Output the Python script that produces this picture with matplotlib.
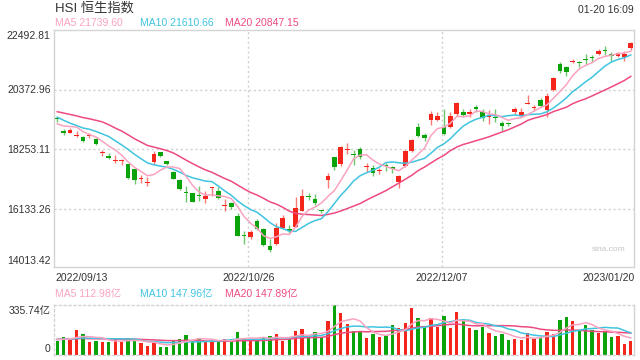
import numpy as np
import pandas as pd
import matplotlib
matplotlib.use("Agg")
import matplotlib.pyplot as plt

plt.rcParams['font.family'] = ['Liberation Sans', 'Noto Sans CJK SC', 'DejaVu Sans']

# ---------------- data ----------------
dates = ["2022/09/13", "2022/10/26", "2022/12/07", "2023/01/20"]
date_idx = [0, 30, 60, 89]

close = [19326.86, 18847.10, 18930.38, 18761.69, 18565.97, 18781.42, 18444.62, 18147.95, 17933.27, 17855.14,
         17860.31, 17250.88, 17165.87, 17222.83, 17079.51, 18087.97, 18012.15, 17740.05, 17216.66, 16832.36,
         16701.04, 16389.11, 16587.69, 16612.90, 16914.58, 16511.28, 16280.22, 16211.12, 15180.69, 15165.59,
         15317.67, 15427.94, 14863.06, 14687.02, 15455.27, 15827.17, 15339.49, 16161.14, 16595.91, 16557.31,
         16358.52, 16081.04, 17325.66, 17619.71, 18343.12, 18256.48, 18045.66, 17992.54, 17655.91, 17424.41,
         17523.81, 17660.90, 17573.58, 17297.94, 18204.68, 18597.23, 18736.44, 18675.35, 19518.29, 19441.18,
         18814.82, 19450.23, 19900.87, 19463.63, 19596.20, 19673.45, 19368.59, 19450.67, 19352.81, 19094.80,
         19160.49, 19679.22, 19593.06, 19898.91, 19741.14, 19781.41, 20145.29, 20793.11, 21052.17, 20991.64,
         21388.34, 21331.46, 21436.05, 21514.10, 21738.66, 21746.72, 21577.64, 21678.00, 21650.98, 22044.65]

open_ = [19345, 18918, 18848, 18726, 18708, 18722, 18633, 18128, 18021, 17835,
         17840, 17722, 17545, 17200, 17050, 17823, 18150, 17832, 17458, 17177,
         16730, 16688, 16610, 16509, 16895, 16776, 16260, 16349, 15871, 15190,
         15132, 15706, 15420, 14826, 14898, 15479, 15432, 15500, 16074, 16615,
         16509, 16110, 17175, 17968, 17740, 18236, 18075, 18271, 17630, 17575,
         17500, 17690, 17632, 17089, 17648, 18191, 19035, 18767, 19288, 19292,
         19045, 19036, 19521, 19590, 19504, 19765, 19564, 19393, 19380, 19187,
         19185, 19576, 19455, 19870, 19720, 20011, 19662, 20368, 21282, 21187,
         21360, 21355, 21460, 21540, 21647, 21775, 21635, 21563, 21536, 21849]

high = [19398, 18965, 19025, 18892, 18731, 18840, 18657, 18231, 18142, 18064,
        17904, 17722, 17568, 17361, 17286, 18180, 18173, 17855, 17481, 17200,
        16966, 16711, 16956, 16785, 16925, 16902, 16476, 16372, 15986, 15338,
        15399, 15799, 15466, 15058, 15629, 15920, 15571, 16579, 16863, 16708,
        16683, 16116, 17407, 17991, 18366, 18465, 18220, 18329, 17760, 17714,
        17593, 17777, 17655, 17356, 18228, 18632, 19196, 18836, 19610, 19591,
        19689, 19565, 19947, 19694, 19688, 19846, 19679, 19646, 19698, 19267,
        19241, 19760, 19708, 20175, 19833, 20069, 20260, 20828, 21363, 21222,
        21480, 21377, 21643, 21618, 21819, 21919, 21727, 21701, 21731, 22068]

low = [19232, 18776, 18840, 18703, 18519, 18675, 18421, 18030, 17911, 17778,
       17684, 17216, 17028, 17062, 16964, 17743, 17966, 17705, 17194, 16809,
       16402, 16389, 16438, 16348, 16615, 16488, 16062, 16142, 15170, 14878,
       15086, 15405, 14828, 14594, 14875, 15421, 15281, 15480, 16051, 16441,
       16277, 16000, 16885, 17527, 17647, 18094, 17697, 17900, 17447, 17308,
       17396, 17487, 17400, 16892, 17625, 18145, 18690, 18549, 19127, 19269,
       18780, 19013, 19440, 19406, 19389, 19593, 19254, 19163, 19238, 18922,
       19068, 19507, 19420, 19853, 19626, 19747, 19398, 20310, 20960, 20854,
       21308, 21182, 21240, 21342, 21612, 21609, 21382, 21528, 21386, 21792]

# closes of the 19 sessions before the window (needed for the moving averages)
prior_close = [19830.52, 19922.45, 19763.91, 19773.03, 19656.98, 19503.25, 19268.74, 19968.38, 20170.04, 20023.22,
               19949.03, 19954.39, 19597.31, 19452.09, 19225.00, 19202.73, 19044.30, 18854.62, 19362.25]

# turnover (亿)
volume = [93, 118, 98, 164, 138, 87, 93, 87, 87, 102,
          87, 109, 93, 80, 58, 80, 53, 53, 98, 104,
          131, 98, 109, 89, 89, 89, 104, 89, 153, 104,
          107, 102, 113, 125, 138, 93, 107, 159, 172, 116,
          152, 116, 227, 336, 281, 206, 159, 154, 111, 138,
          118, 127, 200, 179, 213, 315, 247, 193, 247, 188,
          261, 179, 288, 225, 179, 166, 186, 145, 125, 138,
          98, 104, 98, 145, 104, 118, 152, 138, 234, 254,
          227, 166, 200, 166, 145, 159, 118, 125, 70, 90]
prior_volume = [95, 110, 102, 98, 120, 105, 92, 100, 115, 108,
                97, 104, 112, 99, 106, 101, 94, 110, 103]

y_labels = ["22492.81", "20372.96", "18253.11", "16133.26", "14013.42"]
y_values = [22492.81, 20372.96, 18253.11, 16133.26, 14013.42]
vol_top_label = "335.74亿"
vol_top = 335.74
header_title = "HSI 恒生指数"
header_time = "01-20 16:09"
ma_main_text = ["MA5 21739.60", "MA10 21610.66", "MA20 20847.15"]
ma_vol_text = ["MA5 112.98亿", "MA10 147.96亿", "MA20 147.89亿"]

# ---------------- styling ----------------
RED = "#f4251a"
GREEN = "#0aa30a"
C_MA5 = "#f9a3c1"
C_MA10 = "#3fc4e0"
C_MA20 = "#ee4a82"
TXT = "#333333"
FRAME = "#d4d4d4"
GRID = "#d0d0d0"

W, H = 640, 360
fig = plt.figure(figsize=(6.4, 3.6), dpi=100)


def fx(px):
    return px / W


def fy(py):
    return 1 - py / H


def ftext(x, y, s, **kw):
    fig.text(fx(x), fy(y), s, **kw)


n = len(close)
x = np.arange(n)
o = np.array(open_, float)
c = np.array(close, float)
h = np.array(high, float)
l = np.array(low, float)
up = c >= o
colors = np.where(up, RED, GREEN)

all_close = pd.Series(prior_close + close)
ma = {k: all_close.rolling(k).mean().values[len(prior_close):] for k in (5, 10, 20)}
all_vol = pd.Series(prior_volume + volume, dtype=float)
vma = {k: all_vol.rolling(k).mean().values[len(prior_volume):] for k in (5, 10, 20)}

# ---------------- main (price) axes ----------------
L, R = 54, 634
top, bot = 30, 267
ax = fig.add_axes([fx(L), fy(bot), fx(R - L), (bot - top) / H])
px_per_val = (90 - 30.3) / 2119.85
vmax = 22492.81
vmin = vmax - (bot - top) / px_per_val
ax.set_ylim(vmin, vmax)
ax.set_xlim(-0.5, n - 0.5)
for s in ax.spines.values():
    s.set_color(FRAME)
    s.set_linewidth(1.0)
ax.set_xticks([])
ax.set_yticks([])
for v in y_values[1:4]:
    ax.axhline(v, color=GRID, lw=1.0, ls=(0, (1.5, 2)), zorder=0)
for i in date_idx[1:3]:
    ax.axvline(i - 0.35, color=GRID, lw=1.0, ls=(0, (1.5, 2)), zorder=0)

ax.vlines(x, l, h, colors=colors, lw=1.0, alpha=0.6, zorder=2)
body_lo = np.minimum(o, c)
body_h = np.maximum(np.abs(c - o), 35)
ax.bar(x, body_h, bottom=body_lo, width=0.72, color=colors, lw=0, zorder=3)

ax.plot(x, ma[20], color=C_MA20, lw=1.1, zorder=4)
ax.plot(x, ma[10], color=C_MA10, lw=1.1, zorder=4)
ax.plot(x, ma[5], color=C_MA5, lw=1.1, zorder=4)

ax.text(0.985, 0.06, "sina.com", transform=ax.transAxes, ha="right", va="bottom",
        fontsize=6, color="#c4c4c4")

# ---------------- volume axes ----------------
vt, vb = 305, 354.5
axv = fig.add_axes([fx(L), fy(vb), fx(R - L), (vb - vt) / H])
axv.set_xlim(-0.5, n - 0.5)
axv.set_ylim(0, vol_top)
axv.set_xticks([])
axv.set_yticks([])
for name, s in axv.spines.items():
    s.set_color(FRAME)
    s.set_linewidth(1.0)
    if name != "right":
        s.set_linestyle((0, (1.5, 2)))
for i in date_idx[1:3]:
    axv.axvline(i - 0.35, color=GRID, lw=1.0, ls=(0, (1.5, 2)), zorder=0)
axv.bar(x, volume, width=0.52, color=colors, lw=0, zorder=2)
axv.plot(x, vma[20], color=C_MA20, lw=1.1, zorder=3)
axv.plot(x, vma[10], color=C_MA10, lw=1.1, zorder=3)
axv.plot(x, vma[5], color=C_MA5, lw=1.1, zorder=3)

# ---------------- texts ----------------
ftext(55, 8.5, header_title, fontsize=9.5, color=TXT, va="center", ha="left")
ftext(634, 10, header_time, fontsize=7.5, color=TXT, va="center", ha="right")
for s, xx, col in zip(ma_main_text, [55, 140, 225], [C_MA5, C_MA10, C_MA20]):
    ftext(xx, 23, s, fontsize=7.5, color=col, va="center", ha="left")
for s, xx, col in zip(ma_vol_text, [55, 140, 225], [C_MA5, C_MA10, C_MA20]):
    ftext(xx, 294, s, fontsize=7.5, color=col, va="center", ha="left")

# y labels of price panel
ypix = [30, 90, 149.7, 209.5, 267]
for s, yy, k in zip(y_labels, ypix, range(5)):
    va = "top" if k == 0 else ("bottom" if k == 4 else "center")
    ftext(50.5, yy + (1 if k == 0 else (-1 if k == 4 else 0)), s, fontsize=7.5, color=TXT, va=va, ha="right")

# volume labels
ftext(50.5, 306, vol_top_label, fontsize=7.5, color=TXT, va="top", ha="right")
ftext(50.5, 353.5, "0", fontsize=7.5, color=TXT, va="bottom", ha="right")

# date labels
def xpix(i):
    return L + (i + 0.5) * (R - L) / n

ftext(L + 1, 278, dates[0], fontsize=7.5, color=TXT, va="center", ha="left")
ftext(xpix(date_idx[1] - 0.35), 278, dates[1], fontsize=7.5, color=TXT, va="center", ha="center")
ftext(xpix(date_idx[2] - 0.35), 278, dates[2], fontsize=7.5, color=TXT, va="center", ha="center")
ftext(R + 1, 278, dates[3], fontsize=7.5, color=TXT, va="center", ha="right")

fig.savefig("out.png", dpi=100)
